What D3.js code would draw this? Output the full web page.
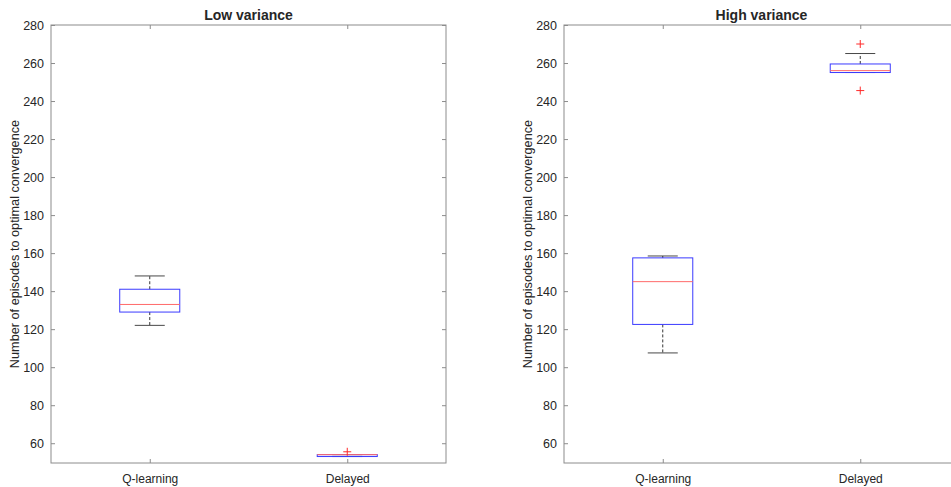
<!DOCTYPE html>
<html>
<head>
<meta charset="utf-8">
<script src="https://cdn.jsdelivr.net/npm/d3@7"></script>
<style>
  body { margin: 0; background: #fff; }
  svg text { font-family: "Liberation Sans", Arial, sans-serif; fill: #262626; }
</style>
</head>
<body>
<svg id="chart" width="951" height="487"></svg>
<script>
// categories and box statistics
var categories = ["Q-learning", "Delayed"];
var yTicks = [60, 80, 100, 120, 140, 160, 180, 200, 220, 240, 260, 280];

// low variance panel: [lowWhisker, q1, median, q3, highWhisker]
var lowStats = [
  [122, 129, 133, 141, 148],
  [53, 53, 54, 54, 54]
];
var lowOutliers = [[], [55.5]];

// high variance panel
var highStats = [
  [107.5, 122.5, 145, 157.5, 158.5],
  [255, 255, 256, 259.5, 265]
];
var highOutliers = [[], [270, 245.5]];

var panels = [
  {title: "Low variance", stats: lowStats, outliers: lowOutliers, left: 51, right: 446},
  {title: "High variance", stats: highStats, outliers: highOutliers, left: 564, right: 959}
];

var svg = d3.select("#chart");
var plotTop = 25, plotBottom = 463;
var axisColor = "#8c8c8c";

function DrawPanel(p)
{
  var x = d3.scaleLinear().domain([0.5, 2.5]).range([p.left, p.right]);
  var y = d3.scaleLinear().domain([49.6, 280]).range([plotBottom, plotTop]);
  var g = svg.append("g");

  // box outline
  g.append("rect")
    .attr("x", p.left).attr("y", plotTop)
    .attr("width", p.right - p.left).attr("height", plotBottom - plotTop)
    .attr("fill", "none").attr("stroke", axisColor).attr("stroke-width", 1);

  // y axis left, ticks inward
  var yAxis = d3.axisLeft(y).tickValues(yTicks).tickSize(-4).tickPadding(7);
  var ya = g.append("g").attr("transform", "translate(" + p.left + ",0)").call(yAxis);
  ya.select(".domain").remove();
  ya.selectAll("line").attr("stroke", axisColor);
  ya.selectAll("text").style("font-size", "12.5px").attr("fill", "#262626");

  // mirrored ticks on right
  var yr = g.append("g").attr("transform", "translate(" + p.right + ",0)")
    .call(d3.axisRight(y).tickValues(yTicks).tickSize(-4).tickFormat(""));
  yr.select(".domain").remove();
  yr.selectAll("line").attr("stroke", axisColor);

  // x axis
  var xAxis = d3.axisBottom(x).tickValues([1, 2]).tickSize(-4).tickPadding(11)
    .tickFormat(function(d) { return categories[d - 1]; });
  var xa = g.append("g").attr("transform", "translate(0," + plotBottom + ")").call(xAxis);
  xa.select(".domain").remove();
  xa.selectAll("line").attr("stroke", axisColor);
  xa.selectAll("text").style("font-size", "12px").attr("fill", "#262626");

  var xt = g.append("g").attr("transform", "translate(0," + plotTop + ")")
    .call(d3.axisTop(x).tickValues([1, 2]).tickSize(-4).tickFormat(""));
  xt.select(".domain").remove();
  xt.selectAll("line").attr("stroke", axisColor);

  // title
  g.append("text")
    .attr("x", (p.left + p.right) / 2).attr("y", 20)
    .attr("text-anchor", "middle")
    .style("font-size", "14px").style("font-weight", "bold")
    .attr("fill", "#000")
    .text(p.title);

  // y label
  g.append("text")
    .attr("transform", "translate(" + (p.left - 32) + "," + ((plotTop + plotBottom) / 2) + ") rotate(-90)")
    .attr("text-anchor", "middle")
    .style("font-size", "12.7px")
    .text("Number of episodes to optimal convergence");

  var boxHalf = 0.152, capHalf = 0.076;

  p.stats.forEach(function(s, i) {
    var cx = i + 1;
    // whiskers
    g.append("line")
      .attr("x1", x(cx)).attr("x2", x(cx))
      .attr("y1", y(s[3])).attr("y2", y(s[4]))
      .attr("stroke", "#000").attr("stroke-dasharray", "3,2").attr("stroke-width", 0.8);
    g.append("line")
      .attr("x1", x(cx)).attr("x2", x(cx))
      .attr("y1", y(s[1])).attr("y2", y(s[0]))
      .attr("stroke", "#000").attr("stroke-dasharray", "3,2").attr("stroke-width", 0.8);
    // caps
    [s[0], s[4]].forEach(function(v) {
      g.append("line")
        .attr("x1", x(cx - capHalf)).attr("x2", x(cx + capHalf))
        .attr("y1", y(v)).attr("y2", y(v))
        .attr("stroke", "#333").attr("stroke-width", 0.9);
    });
    // box
    g.append("rect")
      .attr("x", x(cx - boxHalf)).attr("y", y(s[3]))
      .attr("width", x(cx + boxHalf) - x(cx - boxHalf))
      .attr("height", Math.max(1, y(s[1]) - y(s[3])))
      .attr("fill", "none").attr("stroke", "#3a3aff").attr("stroke-width", 1);
    // median
    g.append("line")
      .attr("x1", x(cx - boxHalf)).attr("x2", x(cx + boxHalf))
      .attr("y1", y(s[2])).attr("y2", y(s[2]))
      .attr("stroke", "#ff6a6a").attr("stroke-width", 1);
    // outliers
    p.outliers[i].forEach(function(v) {
      var px = x(cx), py = y(v);
      g.append("path")
        .attr("d", "M" + (px - 4) + "," + py + "H" + (px + 4) + "M" + px + "," + (py - 4) + "V" + (py + 4))
        .attr("stroke", "#ff2a2a").attr("stroke-width", 1);
    });
  });
}

panels.forEach(DrawPanel);
</script>
</body>
</html>
